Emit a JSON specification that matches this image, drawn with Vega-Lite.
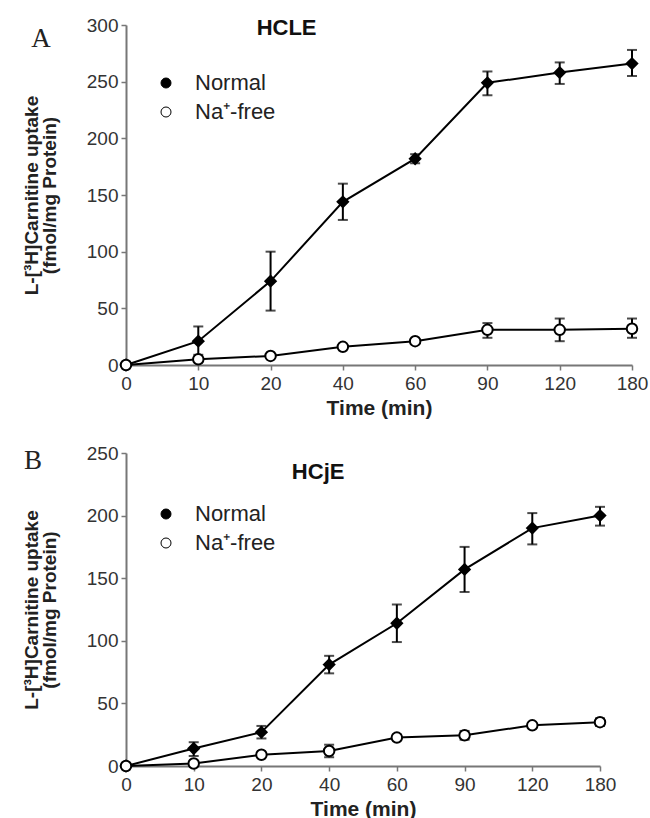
{
  "$schema": "https://vega.github.io/schema/vega-lite/v6.json",
  "padding": {"left": 22, "top": 16, "right": 5, "bottom": 0},
  "background": "white",
  "config": {
    "view": {"stroke": null},
    "font": "Liberation Sans",
    "axis": {
      "grid": false,
      "domainColor": "#777777",
      "domainWidth": 2,
      "tickColor": "#777777",
      "tickWidth": 1.5,
      "tickSize": 5,
      "labelColor": "#333333",
      "labelFont": "Liberation Sans",
      "labelFontSize": 19,
      "titleFont": "Liberation Sans",
      "titleFontWeight": "bold",
      "titleColor": "#222222"
    },
    "legend": {
      "orient": "none",
      "padding": 0,
      "labelFont": "Liberation Sans",
      "labelFontSize": 22,
      "labelColor": "#222222",
      "symbolType": "circle",
      "symbolSize": 100,
      "symbolStrokeColor": "black",
      "symbolStrokeWidth": 1,
      "labelOffset": 18,
      "rowPadding": 7
    }
  },
  "datasets": {
    "A": [
      {"series": "Normal", "time": "0", "value": 0, "lo": 0, "hi": 0},
      {"series": "Normal", "time": "10", "value": 21, "lo": 9, "hi": 34},
      {"series": "Normal", "time": "20", "value": 74, "lo": 48, "hi": 100},
      {"series": "Normal", "time": "40", "value": 144, "lo": 128, "hi": 160},
      {"series": "Normal", "time": "60", "value": 182, "lo": 178, "hi": 186},
      {"series": "Normal", "time": "90", "value": 249, "lo": 238, "hi": 259},
      {"series": "Normal", "time": "120", "value": 258, "lo": 248, "hi": 267},
      {"series": "Normal", "time": "180", "value": 266, "lo": 255, "hi": 278},
      {"series": "Na⁺-free", "time": "0", "value": 0, "lo": 0, "hi": 0},
      {"series": "Na⁺-free", "time": "10", "value": 5, "lo": 5, "hi": 5},
      {"series": "Na⁺-free", "time": "20", "value": 8, "lo": 8, "hi": 8},
      {"series": "Na⁺-free", "time": "40", "value": 16, "lo": 16, "hi": 16},
      {"series": "Na⁺-free", "time": "60", "value": 21, "lo": 21, "hi": 21},
      {"series": "Na⁺-free", "time": "90", "value": 31, "lo": 24, "hi": 37},
      {"series": "Na⁺-free", "time": "120", "value": 31, "lo": 21, "hi": 41},
      {"series": "Na⁺-free", "time": "180", "value": 32, "lo": 24, "hi": 41}
    ],
    "B": [
      {"series": "Normal", "time": "0", "value": 0, "lo": 0, "hi": 0},
      {"series": "Normal", "time": "10", "value": 14, "lo": 8, "hi": 19},
      {"series": "Normal", "time": "20", "value": 27, "lo": 22, "hi": 32},
      {"series": "Normal", "time": "40", "value": 81, "lo": 74, "hi": 88},
      {"series": "Normal", "time": "60", "value": 114, "lo": 99, "hi": 129},
      {"series": "Normal", "time": "90", "value": 157, "lo": 139, "hi": 175},
      {"series": "Normal", "time": "120", "value": 190, "lo": 177, "hi": 202},
      {"series": "Normal", "time": "180", "value": 200, "lo": 192, "hi": 207},
      {"series": "Na⁺-free", "time": "0", "value": 0, "lo": 0, "hi": 0},
      {"series": "Na⁺-free", "time": "10", "value": 2, "lo": 2, "hi": 2},
      {"series": "Na⁺-free", "time": "20", "value": 9, "lo": 9, "hi": 9},
      {"series": "Na⁺-free", "time": "40", "value": 12, "lo": 7, "hi": 17},
      {"series": "Na⁺-free", "time": "60", "value": 22.7, "lo": 21, "hi": 25},
      {"series": "Na⁺-free", "time": "90", "value": 24.5, "lo": 21, "hi": 28},
      {"series": "Na⁺-free", "time": "120", "value": 32.5, "lo": 31, "hi": 34},
      {"series": "Na⁺-free", "time": "180", "value": 35, "lo": 32, "hi": 38}
    ]
  },
  "resolve": {
    "scale": {"x": "independent", "y": "independent", "fill": "independent"},
    "legend": {"fill": "independent"}
  },
  "spacing": 26,
  "vconcat": [
    {
      "width": 506,
      "height": 340,
      "layer": [
        {
          "data": {"name": "A"},
          "mark": {"type": "line", "color": "black", "strokeWidth": 2},
          "encoding": {
            "x": {"field": "time", "type": "ordinal", "sort": ["0","10","20","40","60","90","120","180"], "scale": {"type": "point", "padding": 0}, "axis": {"title": "Time (min)", "titleFontSize": 21, "labelAngle": 0, "labelPadding": 4, "titlePadding": 4}},
            "y": {"field": "value", "type": "quantitative", "scale": {"domain": [0, 300], "nice": false}, "axis": {"values": [0,50,100,150,200,250,300], "title": ["L-[³H]Carnitine uptake", "(fmol/mg Protein)"], "titleFontSize": 19, "titleLineHeight": 18, "titlePadding": 27, "labelPadding": 3}},
            "detail": {"field": "series"}
          }
        },
        {
          "data": {"name": "A"},
          "mark": {"type": "rule", "color": "black", "strokeWidth": 2},
          "encoding": {
            "x": {"field": "time", "type": "ordinal", "sort": ["0","10","20","40","60","90","120","180"]},
            "y": {"field": "lo", "type": "quantitative"},
            "y2": {"field": "hi"}
          }
        },
        {
          "data": {"name": "A"},
          "mark": {"type": "tick", "color": "black", "size": 10, "thickness": 2},
          "encoding": {
            "x": {"field": "time", "type": "ordinal", "sort": ["0","10","20","40","60","90","120","180"]},
            "y": {"field": "lo", "type": "quantitative"}
          }
        },
        {
          "data": {"name": "A"},
          "mark": {"type": "tick", "color": "black", "size": 10, "thickness": 2},
          "encoding": {
            "x": {"field": "time", "type": "ordinal", "sort": ["0","10","20","40","60","90","120","180"]},
            "y": {"field": "hi", "type": "quantitative"}
          }
        },
        {
          "data": {"name": "A"},
          "transform": [{"filter": "datum.series === 'Normal'"}],
          "mark": {"type": "point", "shape": "diamond", "filled": true, "stroke": "black", "strokeWidth": 2, "opacity": 1, "size": 110},
          "encoding": {
            "x": {"field": "time", "type": "ordinal", "sort": ["0","10","20","40","60","90","120","180"]},
            "y": {"field": "value", "type": "quantitative"},
            "fill": {"field": "series", "type": "nominal", "scale": {"domain": ["Normal", "Na⁺-free"], "range": ["black", "white"]}, "legend": {"title": null, "legendX": 29, "legendY": 47, "symbolType": "circle"}}
          }
        },
        {
          "data": {"name": "A"},
          "transform": [{"filter": "datum.series !== 'Normal'"}],
          "mark": {"type": "point", "shape": "circle", "filled": true, "stroke": "black", "strokeWidth": 2, "opacity": 1, "size": 110},
          "encoding": {
            "x": {"field": "time", "type": "ordinal", "sort": ["0","10","20","40","60","90","120","180"]},
            "y": {"field": "value", "type": "quantitative"},
            "fill": {"field": "series", "type": "nominal"}
          }
        },
        {
          "data": {"values": [{"label": "HCLE"}]},
          "mark": {"type": "text", "fontWeight": "bold", "fontSize": 22, "color": "#111111", "align": "center", "baseline": "middle", "dx": 16, "dy": 3},
          "encoding": {
            "x": {"datum": "20"},
            "y": {"datum": 300},
            "text": {"field": "label"}
          }
        },
        {
          "data": {"values": [{"label": "A"}]},
          "mark": {"type": "text", "font": "Liberation Serif", "fontSize": 27, "color": "#222222", "align": "center", "baseline": "middle", "dx": -85, "dy": 14},
          "encoding": {
            "x": {"datum": "0"},
            "y": {"datum": 300},
            "text": {"field": "label"}
          }
        }
      ]
    },
    {
      "width": 474,
      "height": 313,
      "layer": [
        {
          "data": {"name": "B"},
          "mark": {"type": "line", "color": "black", "strokeWidth": 2},
          "encoding": {
            "x": {"field": "time", "type": "ordinal", "sort": ["0","10","20","40","60","90","120","180"], "scale": {"type": "point", "padding": 0}, "axis": {"title": "Time (min)", "titleFontSize": 21, "labelAngle": 0, "labelPadding": 4, "titlePadding": 4}},
            "y": {"field": "value", "type": "quantitative", "scale": {"domain": [0, 250], "nice": false}, "axis": {"values": [0,50,100,150,200,250], "title": ["L-[³H]Carnitine uptake", "(fmol/mg Protein)"], "titleFontSize": 19, "titleLineHeight": 18, "titlePadding": 27, "labelPadding": 3}},
            "detail": {"field": "series"}
          }
        },
        {
          "data": {"name": "B"},
          "mark": {"type": "rule", "color": "black", "strokeWidth": 2},
          "encoding": {
            "x": {"field": "time", "type": "ordinal", "sort": ["0","10","20","40","60","90","120","180"]},
            "y": {"field": "lo", "type": "quantitative"},
            "y2": {"field": "hi"}
          }
        },
        {
          "data": {"name": "B"},
          "mark": {"type": "tick", "color": "black", "size": 10, "thickness": 2},
          "encoding": {
            "x": {"field": "time", "type": "ordinal", "sort": ["0","10","20","40","60","90","120","180"]},
            "y": {"field": "lo", "type": "quantitative"}
          }
        },
        {
          "data": {"name": "B"},
          "mark": {"type": "tick", "color": "black", "size": 10, "thickness": 2},
          "encoding": {
            "x": {"field": "time", "type": "ordinal", "sort": ["0","10","20","40","60","90","120","180"]},
            "y": {"field": "hi", "type": "quantitative"}
          }
        },
        {
          "data": {"name": "B"},
          "transform": [{"filter": "datum.series === 'Normal'"}],
          "mark": {"type": "point", "shape": "diamond", "filled": true, "stroke": "black", "strokeWidth": 2, "opacity": 1, "size": 110},
          "encoding": {
            "x": {"field": "time", "type": "ordinal", "sort": ["0","10","20","40","60","90","120","180"]},
            "y": {"field": "value", "type": "quantitative"},
            "fill": {"field": "series", "type": "nominal", "scale": {"domain": ["Normal", "Na⁺-free"], "range": ["black", "white"]}, "legend": {"title": null, "legendX": 29, "legendY": 50, "symbolType": "circle"}}
          }
        },
        {
          "data": {"name": "B"},
          "transform": [{"filter": "datum.series !== 'Normal'"}],
          "mark": {"type": "point", "shape": "circle", "filled": true, "stroke": "black", "strokeWidth": 2, "opacity": 1, "size": 110},
          "encoding": {
            "x": {"field": "time", "type": "ordinal", "sort": ["0","10","20","40","60","90","120","180"]},
            "y": {"field": "value", "type": "quantitative"},
            "fill": {"field": "series", "type": "nominal"}
          }
        },
        {
          "data": {"values": [{"label": "HCjE"}]},
          "mark": {"type": "text", "fontWeight": "bold", "fontSize": 22, "color": "#111111", "align": "center", "baseline": "middle", "dx": -11, "dy": 19},
          "encoding": {
            "x": {"datum": "40"},
            "y": {"datum": 250},
            "text": {"field": "label"}
          }
        },
        {
          "data": {"values": [{"label": "B"}]},
          "mark": {"type": "text", "font": "Liberation Serif", "fontSize": 27, "color": "#222222", "align": "center", "baseline": "middle", "dx": -93, "dy": 8},
          "encoding": {
            "x": {"datum": "0"},
            "y": {"datum": 250},
            "text": {"field": "label"}
          }
        }
      ]
    }
  ]
}
